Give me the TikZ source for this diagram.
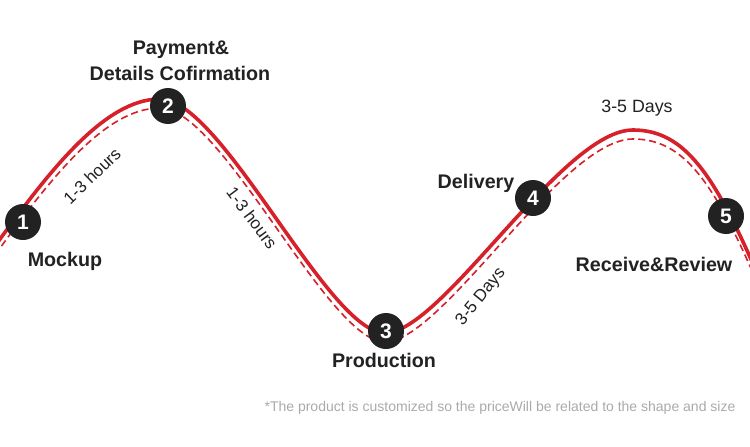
\documentclass[tikz,border=0pt]{standalone}
\usepackage{fontspec}
\setmainfont{Liberation Sans}
\definecolor{curvered}{RGB}{214,32,42}
\definecolor{dotblack}{RGB}{34,34,34}
\definecolor{labeltxt}{RGB}{34,34,34}
\definecolor{notegray}{RGB}{170,170,170}
\tikzset{
  stepdot/.style={circle, fill=dotblack, minimum size=36pt, inner sep=0pt, text=white, font=\bfseries\fontsize{21}{23}\selectfont},
  steplabel/.style={text=labeltxt, font=\bfseries\fontsize{19.7}{22}\selectfont, align=center, inner sep=0pt},
  timelabel/.style={text=labeltxt, font=\fontsize{17}{19}\selectfont, inner sep=0pt},
  solidcurve/.style={draw=curvered, line width=3.6pt},
  dashcurve/.style={draw=curvered, line width=1.6pt, dash pattern=on 7pt off 4pt}
}
\begin{document}
\begin{tikzpicture}[x=1pt,y=-1pt]
\useasboundingbox (0,0) rectangle (750,447);
\fill[white] (0,0) rectangle (750,447);
\begin{scope}
\clip (0,0) rectangle (750,447);
\foreach \st/\sh in {solidcurve/0pt, dashcurve/-9pt}{
\path[\st, yshift=\sh] (-5,246) .. controls (50,170) and (105,99) .. (160,99)
  .. controls (222,99) and (328,333) .. (385,333)
  .. controls (442,333) and (562,130) .. (633,130)
  .. controls (685,130) and (715,175) .. (760,280);
}
\end{scope}
\node[stepdot] (n1) at (23,222) {1};
\node[stepdot] (n2) at (168,106) {2};
\node[stepdot] (n3) at (386,331) {3};
\node[stepdot] (n4) at (533,198) {4};
\node[stepdot] (n5) at (726,216) {5};
\node[steplabel] (l1) at (65,261) {Mockup};
\node[steplabel] (l2a) at (181,50) {Payment\&};
\node[steplabel] (l2b) at (180,73) {Details Cofirmation};
\node[steplabel] (l3) at (384,360) {Production};
\node[steplabel] (l4) at (476,183) {Delivery};
\node[steplabel] (l5) at (654,264) {Receive\&Review};
\node[timelabel] (t1) at (92,176) [rotate=44] {1-3 hours};
\node[timelabel] (t2) at (252,218) [rotate=-53] {1-3 hours};
\node[timelabel] (t3) at (481,297) [rotate=51] {3-5 Days};
\node[timelabel, font=\fontsize{17.8}{20}\selectfont] (t4) at (637,108) {3-5 Days};
\node[text=notegray, font=\fontsize{14}{16}\selectfont, inner sep=0pt] (note) at (500,408) {*The product is customized so the priceWill be related to the shape and size};
\end{tikzpicture}
\end{document}
